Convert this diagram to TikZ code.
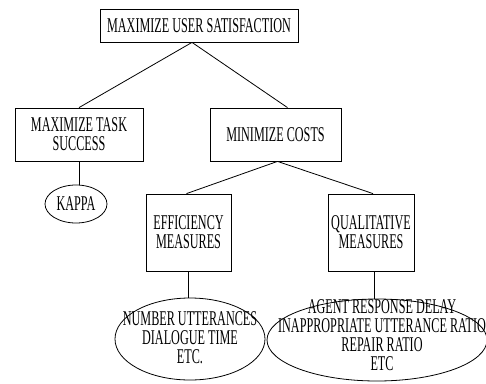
\documentclass[tikz,border=0pt]{standalone}
\usepackage{fontspec}
\setmainfont[FakeStretch=0.58]{Liberation Serif}
\usepackage{tikz}
\usetikzlibrary{shapes.geometric}
\tikzstyle{treeLayout} = [x = 1pt, y = -1pt, line width = .8pt]
\tikzstyle{goalText} = [font=\fontsize{21}{19}\selectfont, align=center, inner sep=0pt]
\tikzstyle{goalBox} = [goalText, draw, rectangle]
\tikzstyle{measureOval} = [draw, ellipse, inner sep=0pt]
\tikzstyle{branchLine} = [color=black]

\begin{document}
\begin{tikzpicture}[treeLayout]
      \useasboundingbox (0,0) rectangle (486,383);

      \node [goalBox, minimum width=198, minimum height=33] (satisfaction) at (199,25.5) {MAXIMIZE USER SATISFACTION};
      \node [goalBox, minimum width=128, minimum height=53] (success) at (79,134.5) {MAXIMIZE TASK\\SUCCESS};
      \node [goalBox, minimum width=131, minimum height=53] (costs) at (275.5,134.5) {MINIMIZE COSTS};
      \node [goalBox, minimum width=85, minimum height=77] (efficiency) at (188.5,232.5) {EFFICIENCY\\MEASURES};
      \node [goalBox, minimum width=86, minimum height=77] (qualitative) at (371,232.5) {QUALITATIVE\\MEASURES};

      \node [measureOval, goalText, draw, minimum width=62, minimum height=38] (kappa) at (76,204) {KAPPA};
      \node [measureOval, minimum width=150, minimum height=82] (effOval) at (190,339) {};
      \node [goalText] (effList) at ([yshift=1]effOval.center) {NUMBER UTTERANCES\\DIALOGUE TIME\\ETC.};
      \node [measureOval, minimum width=220, minimum height=82] (qualOval) at (377,340) {};
      \node [goalText] (qualList) at ([xshift=5,yshift=5]qualOval.center) {AGENT RESPONSE DELAY\\INAPPROPRIATE UTTERANCE RATIO\\REPAIR RATIO\\ETC};

      \draw [branchLine] ([xshift=-7]satisfaction.south) -- (success.north);
      \draw [branchLine] ([xshift=-7]satisfaction.south) -- ([xshift=12]costs.north);
      \draw [branchLine] (success.south) -- (success.south |- kappa.north);
      \draw [branchLine] ([xshift=2]costs.south) -- ([xshift=-2]efficiency.north);
      \draw [branchLine] ([xshift=2]costs.south) -- ([xshift=2]qualitative.north);
      \draw [branchLine] (efficiency.south) -- (efficiency.south |- effOval.north);
      \draw [branchLine] ([xshift=3]qualitative.south) -- ([xshift=3]qualitative.south |- qualOval.north);
    \end{tikzpicture}
\end{document}
